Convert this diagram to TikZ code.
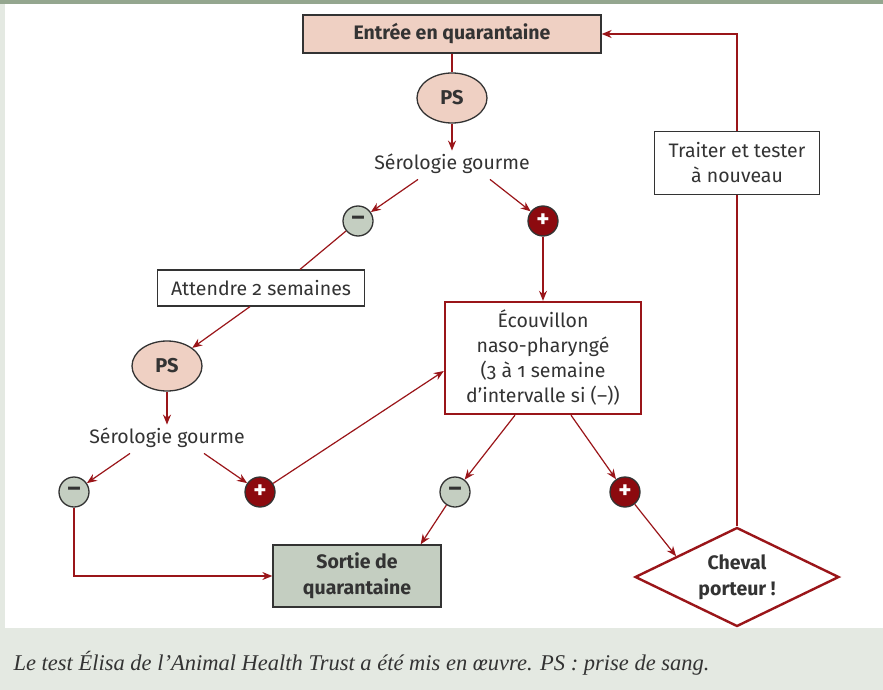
\documentclass[tikz,border=0pt]{standalone}
\usepackage{fontspec}
\setmainfont{Fira Sans}[Numbers=OldStyle]
\newfontfamily\capfont{Liberation Serif}
\usetikzlibrary{shapes.geometric,arrows.meta,calc}

\definecolor{vinred}{HTML}{9A1519}
\definecolor{plusred}{HTML}{8C0A0F}
\definecolor{blush}{HTML}{EFD0C3}
\definecolor{sage}{HTML}{C4CEC1}
\definecolor{ink}{HTML}{333333}
\definecolor{capbg}{HTML}{E4E9E2}
\definecolor{topbar}{HTML}{94A68F}

\begin{document}
\begin{tikzpicture}[
    x=1pt, y=-1pt,
    every node/.style={text=ink, font=\fontsize{19.5}{25}\selectfont},
    link/.style={vinred, line width=1.2pt},
    arr/.style={link, -{Stealth[length=10pt,width=8pt]}},
    headbox/.style={draw=ink, fill=blush, line width=1.3pt,
                    minimum width=298pt, minimum height=38pt,
                    font=\fontsize{19.5}{25}\selectfont\bfseries},
    ps/.style={ellipse, draw=ink, fill=blush, line width=1.3pt,
               minimum width=70pt, minimum height=50pt, inner sep=0pt,
               font=\fontsize{20}{24}\selectfont\bfseries},
    minusdot/.style={circle, draw=ink, fill=sage, line width=1.3pt,
                minimum size=30pt, inner sep=0pt,
                font=\fontsize{25}{26}\selectfont\bfseries},
    plusdot/.style={minusdot, fill=plusred, text=white},
    note/.style={draw=ink, fill=white, line width=1.2pt, align=center},
    swabbox/.style={draw=vinred, fill=white, line width=2.4pt, align=center,
                    minimum width=196pt, minimum height=112pt, inner sep=0pt},
    exitbox/.style={draw=ink, fill=sage, line width=1.3pt, align=center,
                    minimum width=168pt, minimum height=62pt, inner sep=0pt,
                    font=\fontsize{19.5}{26}\selectfont\bfseries},
    carrierbox/.style={diamond, draw=vinred, fill=white, line width=2.4pt,
                       aspect=2.06, minimum width=204pt, minimum height=99pt,
                       inner sep=0pt, align=center,
                       font=\fontsize{19.5}{26}\selectfont\bfseries}
]

% ---------- frame ----------
\useasboundingbox (0,0) rectangle (883,690);
\fill[capbg] (0,0) rectangle (883,690);
\fill[white] (5,4) rectangle (883,628);
\fill[topbar] (0,0) rectangle (883,4);

% ---------- nodes ----------
\node[headbox] (entry) at (452,34) {Entrée en quarantaine};
\node[ps] (ps1) at (452,98) {PS};
\node (sero1) at (452,164) {Sérologie gourme};
\node[minusdot] (neg1) at (358,221) {–};
\node[plusdot] (pos1) at (543,221) {+};

\node[note, minimum width=207pt, minimum height=36pt] (wait) at (261,288)
      {Attendre 2 semaines};
\node[ps] (ps2) at (167,366) {PS};
\node (sero2) at (167,438) {Sérologie gourme};
\node[minusdot] (neg2) at (74,492) {–};
\node[plusdot] (pos2) at (260,492) {+};

\node[swabbox] (swab) at (543,358)
      {Écouvillon\\naso-pharyngé\\(3 à 1 semaine\\d’intervalle si (–))};
\node[minusdot] (neg3) at (455,492) {–};
\node[plusdot] (pos3) at (625,492) {+};

\node[exitbox] (exit) at (357,576) {Sortie de\\quarantaine};
\node[carrierbox] (carrier) at (737,577) {Cheval\\porteur !};
\node[note, minimum width=165pt, minimum height=63pt, inner sep=0pt]
      (retest) at (737,163) {Traiter et tester\\à nouveau};

% ---------- connectors ----------
\draw[link] (entry) -- (ps1);
\draw[arr] (ps1) -- (sero1);
\draw[arr] ([xshift=-34pt,yshift=-2pt]sero1.south) -- (neg1);
\draw[arr] ([xshift=38pt,yshift=-2pt]sero1.south) -- (pos1);
\draw[link] (neg1) -- ([xshift=39pt]wait.north);
\draw[arr] ([xshift=-11pt]wait.south) -- (ps2);
\draw[arr] (ps2) -- (sero2);
\draw[arr] ([xshift=-37pt,yshift=-2pt]sero2.south) -- (neg2);
\draw[arr] ([xshift=37pt,yshift=-2pt]sero2.south) -- (pos2);
\draw[arr] (pos2) -- ([yshift=-13pt]swab.west);
\draw[arr] (pos1) -- (swab);
\draw[arr] ([xshift=-28pt]swab.south) -- (neg3);
\draw[arr] ([xshift=28pt]swab.south) -- (pos3);
\draw[arr] (neg3) -- ([xshift=-21pt]exit.north east);
\draw[arr] (neg2) |- (exit.west);
\draw[arr] (pos3) -- ($(carrier.west)!0.41!(carrier.north)$);
\draw[link] (carrier.north) -- (retest.south);
\draw[arr] (retest.north) |- (entry.east);

% ---------- caption ----------
\node[anchor=west, font=\capfont\itshape\fontsize{22.5}{26}\selectfont]
      (caption) at (10,663)
      {Le test Élisa de l’Animal Health Trust a été mis en œuvre. PS : prise de sang.};

\end{tikzpicture}
\end{document}
